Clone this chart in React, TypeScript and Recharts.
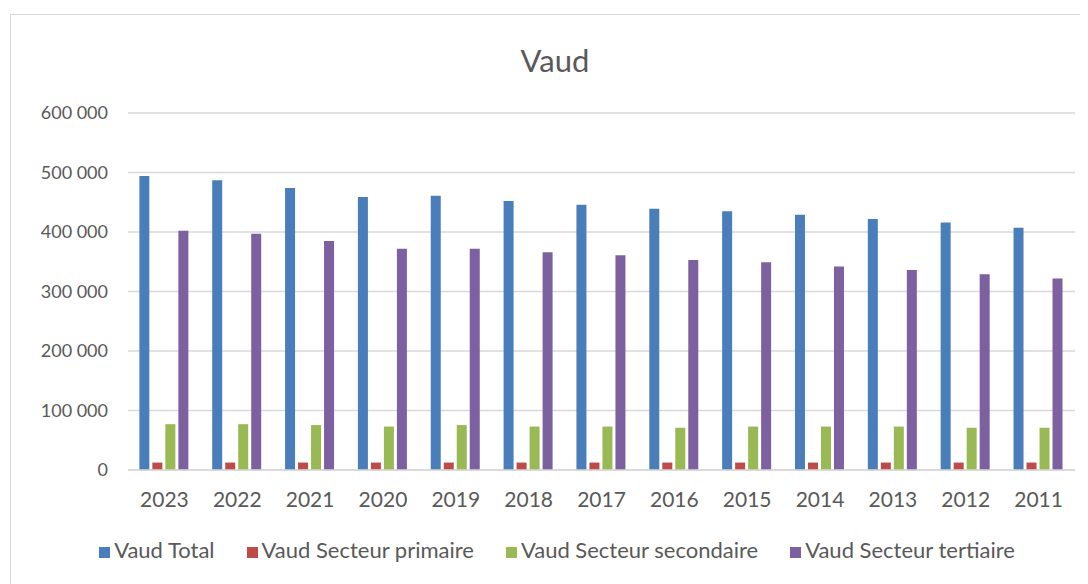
import { Bar, BarChart, CartesianGrid, Legend, XAxis, YAxis } from "recharts"

const years = ["2023", "2022", "2021", "2020", "2019", "2018", "2017", "2016", "2015", "2014", "2013", "2012", "2011"]
const total = [494000, 487000, 474000, 459000, 461000, 452000, 446000, 439000, 435000, 429000, 422000, 416000, 407000]
const primaire = [12500, 12500, 12500, 12500, 12500, 12500, 12500, 12500, 12500, 12500, 12500, 12500, 12500]
const secondaire = [77000, 77000, 75500, 73000, 75500, 73000, 73000, 71000, 73000, 73000, 73000, 71000, 71000]
const tertiaire = [402000, 397000, 385000, 372000, 372000, 366000, 361000, 353000, 349000, 342000, 336000, 329000, 322000]
const yTicks = [0, 100000, 200000, 300000, 400000, 500000, 600000]
const seriesOrder = ["total", "primaire", "secondaire", "tertiaire"]

const data = years.map((year, i) => ({
  year,
  total: total[i],
  primaire: primaire[i],
  secondaire: secondaire[i],
  tertiaire: tertiaire[i],
}))

const FONT = "Lato, 'Open Sans', sans-serif"
const TEXT = "#595959"

const fmt = (v: number) => v.toLocaleString("en-US").replace(/,/g, " ")

export default function App() {
  return (
    <div style={{ position: "relative", marginLeft: 2, marginTop: 6, width: 1070, height: 580, border: "1px solid #d9d9d9", fontFamily: FONT }}>
      <div style={{ position: "absolute", top: 26, left: 0, width: 1088, textAlign: "center", fontSize: 31, color: TEXT }}>
        Vaud
      </div>
      <BarChart
        width={1068}
        height={570}
        data={data}
        margin={{ top: 98, right: 4, left: 0, bottom: 48 }}
        barCategoryGap="15.6%"
        barGap={3}
      >
        <CartesianGrid vertical={false} stroke="#d9d9d9" strokeWidth={1.5} />
        <XAxis
          dataKey="year"
          height={40}
          tick={{ fill: TEXT, fontSize: 21, fontFamily: FONT }}
          axisLine={{ stroke: "#d9d9d9", strokeWidth: 1.5 }}
          tickLine={false}
          tickSize={0}
          tickMargin={22}
        />
        <YAxis
          width={117}
          domain={[0, 600000]}
          ticks={yTicks}
          tickFormatter={fmt}
          tick={{ fill: TEXT, fontSize: 18, fontFamily: FONT }}
          axisLine={false}
          tickLine={false}
          tickSize={0}
          tickMargin={20}
        />
        <Legend
          iconType="square"
          iconSize={11}
          itemSorter={(item: any) => seriesOrder.indexOf(item.dataKey)}
          wrapperStyle={{ top: 521, left: 30, fontSize: 22, fontFamily: FONT }}
          formatter={(value) => <span style={{ color: TEXT, marginRight: 22 }}>{value}</span>}
        />
        <Bar dataKey="total" name="Vaud Total" fill="#4a7ebb" isAnimationActive={false} />
        <Bar dataKey="primaire" name="Vaud Secteur primaire" fill="#be4b48" isAnimationActive={false} />
        <Bar dataKey="secondaire" name="Vaud Secteur secondaire" fill="#98b954" isAnimationActive={false} />
        <Bar dataKey="tertiaire" name="Vaud Secteur tertiaire" fill="#7d60a0" isAnimationActive={false} />
      </BarChart>
    </div>
  )
}
